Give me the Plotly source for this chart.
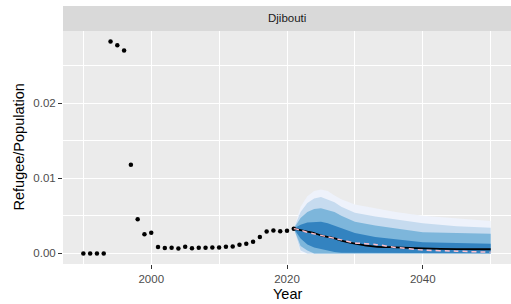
import plotly.graph_objects as go

# observed data
obs_years = list(range(1990, 2022))
obs_ratio = [0.0, 0.0, 0.0, 0.0, 0.0282, 0.0277, 0.0270, 0.0118, 0.00456, 0.00256,
             0.00274, 0.00084, 0.00072, 0.00075, 0.00066, 0.00088, 0.00070, 0.00075,
             0.00075, 0.00080, 0.00080, 0.00088, 0.00093, 0.00115, 0.00128, 0.00155,
             0.00217, 0.00292, 0.00305, 0.00296, 0.00300, 0.00327]

# forecast quantiles
fc_years = [2021, 2022, 2023, 2024, 2025, 2026, 2027, 2028, 2030, 2033, 2036, 2040, 2045, 2050]
median = [0.0033, 0.0031, 0.0029, 0.0027, 0.0024, 0.0022, 0.0020, 0.0017, 0.0013, 0.0009, 0.0008, 0.00066, 0.00058, 0.00055]
mean_fc = [0.0033, 0.0031, 0.0028, 0.0026, 0.0024, 0.0022, 0.0020, 0.0018, 0.0014, 0.0012, 0.0008, 0.00045, 0.0003, 0.00015]
b1_hi = [0.0033, 0.0062, 0.0076, 0.0083, 0.0085, 0.0083, 0.0077, 0.0072, 0.0065, 0.0060, 0.0055, 0.0050, 0.0046, 0.0043]
b1_lo = [0.0033, 0.0001, 0.0, 0.0, 0.0, 0.0, 0.0, 0.0, 0.0, 0.0, 0.0, 0.0, 0.0, 0.0]
b2_hi = [0.0033, 0.0055, 0.0067, 0.0073, 0.0075, 0.0072, 0.0068, 0.0062, 0.0054, 0.0049, 0.0045, 0.0040, 0.0036, 0.0034]
b2_lo = [0.0033, 0.0004, 0.0, 0.0, 0.0, 0.0, 0.0, 0.0, 0.0, 0.0, 0.0, 0.0, 0.0, 0.0]
b3_hi = [0.0033, 0.0047, 0.0055, 0.0059, 0.0060, 0.0058, 0.0055, 0.0050, 0.0042, 0.0037, 0.0033, 0.0028, 0.0027, 0.0026]
b3_lo = [0.0033, 0.0010, 0.0004, 0.0, 0.0, 0.0, 0.0, 0.0, 0.0, 0.0, 0.0, 0.0, 0.0, 0.0]
b4_hi = [0.0033, 0.0038, 0.0041, 0.0042, 0.0042, 0.0040, 0.0037, 0.0033, 0.0027, 0.0022, 0.0019, 0.0015, 0.0014, 0.0013]
b4_lo = [0.0033, 0.0020, 0.0012, 0.0008, 0.0006, 0.0004, 0.0002, 0.0001, 0.00005, 0.00002, 0.00002, 0.00002, 0.00002, 0.00002]

band_colors = ["#EEF2FB", "#C6DBEF", "#7DB6DB", "#3383C0"]

fig = go.Figure()
for hi, lo, col in [(b1_hi, b1_lo, band_colors[0]), (b2_hi, b2_lo, band_colors[1]),
                    (b3_hi, b3_lo, band_colors[2]), (b4_hi, b4_lo, band_colors[3])]:
    fig.add_trace(go.Scatter(x=fc_years + fc_years[::-1], y=hi + lo[::-1], fill="toself",
                             fillcolor=col, line=dict(width=0), mode="lines",
                             hoverinfo="skip", showlegend=False))

fig.add_trace(go.Scatter(x=obs_years, y=obs_ratio, mode="markers",
                         marker=dict(color="black", size=4.5), showlegend=False))
fig.add_trace(go.Scatter(x=fc_years, y=median, mode="lines",
                         line=dict(color="black", width=1.8, shape="spline", smoothing=0.6),
                         showlegend=False))
fig.add_trace(go.Scatter(x=fc_years, y=mean_fc, mode="lines",
                         line=dict(color="#FFC0CB", width=1.5, dash="5px,4px", shape="spline", smoothing=0.6),
                         showlegend=False))

tickfont = dict(family="Liberation Sans, Arial, sans-serif", size=11.5, color="#4D4D4D")
fig.update_layout(
    width=511, height=304,
    margin=dict(l=63, r=0, t=31, b=40),
    paper_bgcolor="white", plot_bgcolor="#EBEBEB",
    font=dict(family="Liberation Sans, Arial, sans-serif"),
    xaxis=dict(range=[1987, 2053], tickvals=[2000, 2020, 2040], ticktext=["2000", "2020", "2040"],
               showgrid=True, gridcolor="white", gridwidth=1.07, zeroline=False,
               ticks="outside", ticklen=4, tickcolor="#333333", tickwidth=1.07,
               tickfont=tickfont, showline=False,
               minor=dict(tickvals=[1990, 2010, 2030, 2050], showgrid=True, gridcolor="white",
                          gridwidth=0.55, ticks="")),
    yaxis=dict(range=[-0.00141, 0.0296], tickvals=[0, 0.01, 0.02], ticktext=["0.00", "0.01", "0.02"],
               showgrid=True, gridcolor="white", gridwidth=1.07, zeroline=False,
               ticks="outside", ticklen=4, tickcolor="#333333", tickwidth=1.07,
               tickfont=tickfont, showline=False,
               minor=dict(tickvals=[0.005, 0.015, 0.025], showgrid=True, gridcolor="white",
                          gridwidth=0.55, ticks="")),
    shapes=[dict(type="rect", xref="paper", yref="paper", x0=0, x1=1, y0=1, y1=1 + 25 / 233,
                 fillcolor="#D9D9D9", line=dict(width=0), layer="below")],
    annotations=[
        dict(text="Djibouti", xref="paper", yref="paper", x=0.5, y=1 + 12.5 / 233,
             xanchor="center", yanchor="middle", showarrow=False,
             font=dict(size=11.5, color="#1A1A1A")),
        dict(text="Year", xref="paper", yref="paper", x=0.5, y=-29.5 / 233,
             xanchor="center", yanchor="middle", showarrow=False,
             font=dict(size=14.5, color="black")),
        dict(text="Refugee/Population", xref="paper", yref="paper", x=-45 / 448, y=0.5,
             xanchor="center", yanchor="middle", showarrow=False, textangle=-90,
             font=dict(size=14.5, color="black")),
    ],
)

fig.write_html("out.html", config={"displayModeBar": False},
               post_script="document.body.style.margin='0';document.body.style.overflow='hidden';")
